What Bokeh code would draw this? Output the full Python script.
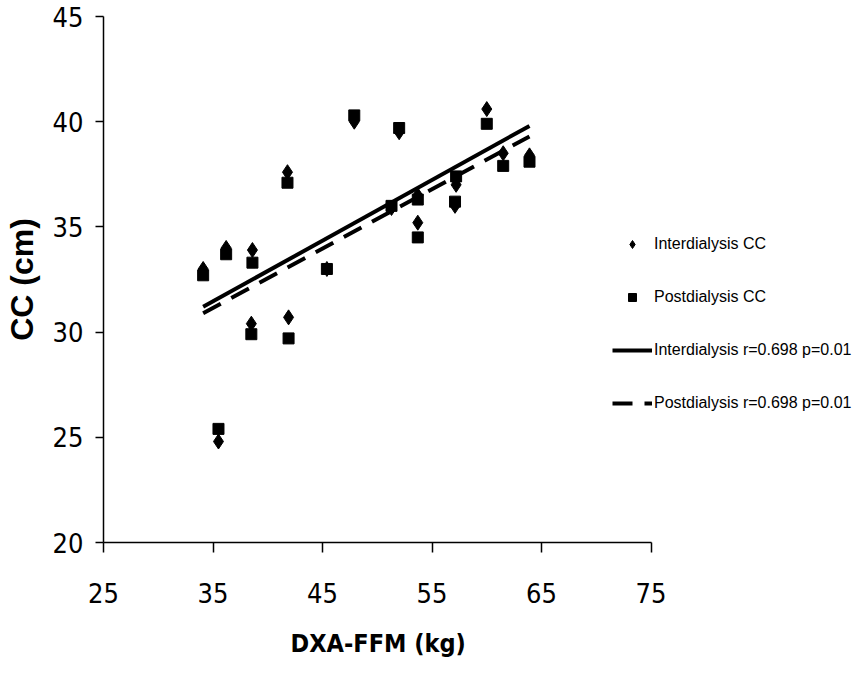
from bokeh.plotting import figure
from bokeh.models import Legend, LegendItem, FixedTicker, Range1d, Title
from bokeh.embed import file_html
from bokeh.resources import INLINE

# DXA-FFM (kg) per patient
ffm = [34.1, 35.5, 36.2, 38.6, 38.5, 41.8, 41.9, 45.4, 47.9, 52.0, 51.3, 53.7, 53.7, 57.2, 57.1, 60.0, 61.5, 63.9]
# Calf circumference (cm)
inter_cc = [33.0, 24.8, 34.0, 33.9, 30.4, 37.6, 30.7, 33.0, 40.0, 39.5, 35.9, 36.5, 35.2, 37.0, 36.0, 40.6, 38.5, 38.4]
post_cc = [32.7, 25.4, 33.7, 33.3, 29.9, 37.1, 29.7, 33.0, 40.3, 39.7, 36.0, 36.3, 34.5, 37.4, 36.2, 39.9, 37.9, 38.1]

# regression lines (end points)
trend_x = [34.1, 63.9]
inter_trend = [31.2, 39.8]
post_trend = [30.9, 39.3]

x_ticks = [25, 35, 45, 55, 65, 75]
y_ticks = [20, 25, 30, 35, 40, 45]

NARROW = "Liberation Sans Narrow, DejaVu Sans Condensed, Liberation Sans"
SANS = "Liberation Sans"

W, H = 852, 678
LEFT, TOP, FRAME_W, FRAME_H = 101, 16, 549, 528
x_end = 25 + (W - LEFT) * 50.0 / FRAME_W

p = figure(width=W, height=H, x_range=Range1d(25, x_end), y_range=Range1d(20, 45),
           output_backend="svg", toolbar_location=None,
           min_border_left=LEFT, min_border_right=0, min_border_top=TOP,
           min_border_bottom=H - TOP - FRAME_H)
p.outline_line_color = None
p.xgrid.grid_line_color = None
p.ygrid.grid_line_color = None
p.background_fill_color = "white"
p.border_fill_color = "white"

r_int = p.scatter(ffm, inter_cc, marker="diamond", size=15, color="black")
r_post = p.scatter(ffm, post_cc, marker="square", size=11, color="black")
l_int = p.line(trend_x, inter_trend, line_color="black", line_width=4)
l_post = p.line(trend_x, post_trend, line_color="black", line_width=4, line_dash="20 12")

for ax, ticks in ((p.xaxis[0], x_ticks), (p.yaxis[0], y_ticks)):
    ax.ticker = FixedTicker(ticks=ticks)
    ax.axis_line_color = "black"
    ax.axis_line_width = 1.5
    ax.major_tick_line_color = "black"
    ax.major_tick_line_width = 1.5
    ax.major_tick_in = 0
    ax.minor_tick_line_color = None
    ax.major_label_text_font = NARROW
    ax.major_label_text_font_size = "27px"
    ax.major_label_text_color = "black"
    ax.axis_label_text_color = "black"
    ax.axis_label_text_font_style = "bold"

p.xaxis.bounds = (25, 75)
p.xaxis.major_tick_out = 10
p.yaxis.major_tick_out = 8
p.xaxis.major_label_standoff = 30
p.yaxis.major_label_standoff = 12

# x-axis title, centred under the 25-75 axis (the frame runs on to hold the legend)
xlabel = Title(text="DXA-FFM (kg)", align="left", offset=187, standoff=42,
               text_font=NARROW, text_font_size="25px", text_font_style="bold",
               text_color="black")
p.add_layout(xlabel, "below")

p.yaxis.axis_label = "CC (cm)"
p.yaxis.axis_label_text_font = SANS
p.yaxis.axis_label_text_font_size = "32px"
p.yaxis.axis_label_standoff = 10

legend = Legend(items=[
    LegendItem(label="Interdialysis CC", renderers=[r_int]),
    LegendItem(label="Postdialysis CC", renderers=[r_post]),
    LegendItem(label="Interdialysis r=0.698 p=0.01", renderers=[l_int]),
    LegendItem(label="Postdialysis r=0.698 p=0.01", renderers=[l_post]),
], location=(509, 129))
legend.border_line_color = None
legend.background_fill_alpha = 0
legend.padding = 0
legend.margin = 0
legend.spacing = 33
legend.glyph_width = 40
legend.glyph_height = 20
legend.label_height = 20
legend.label_standoff = 2
legend.label_text_font = SANS
legend.label_text_font_size = "16px"
legend.label_text_color = "black"
p.add_layout(legend, "center")

open("out.html", "w").write(file_html(p, INLINE))
